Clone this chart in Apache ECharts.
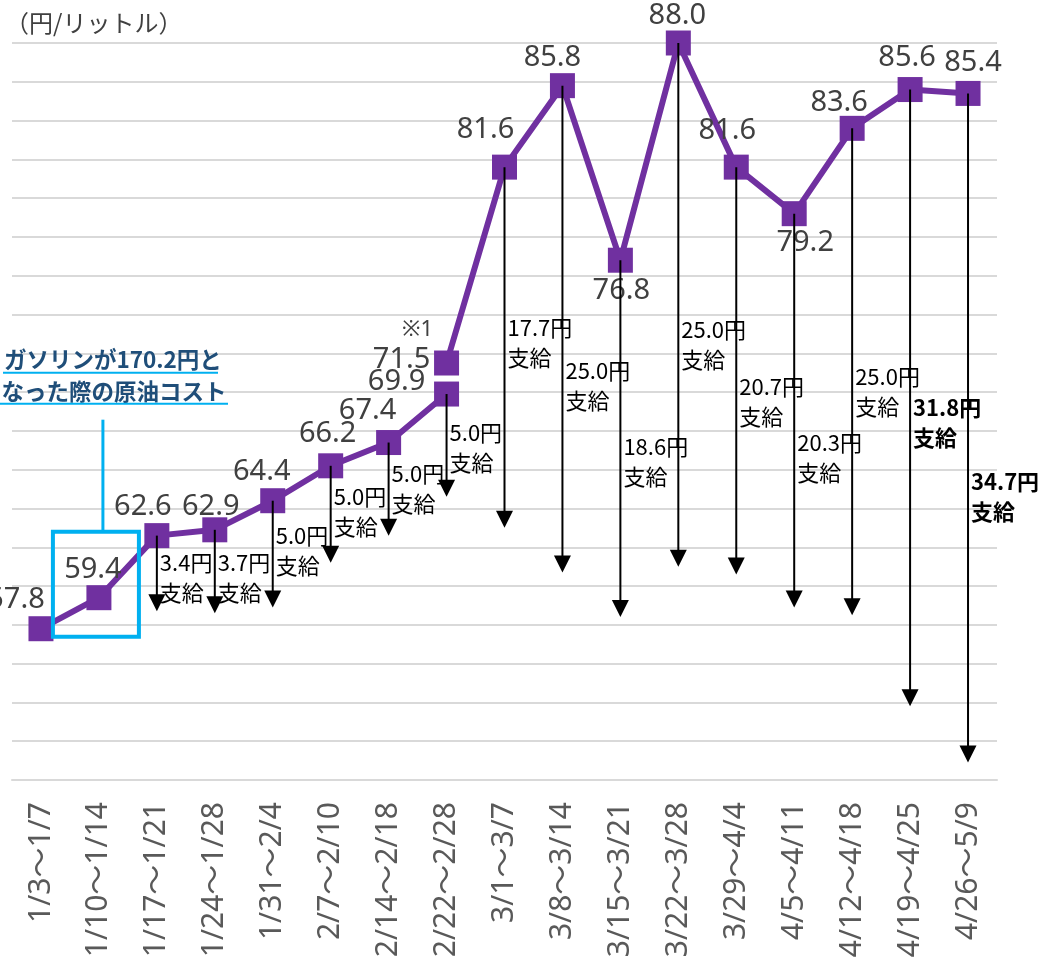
<!DOCTYPE html>
<html>
<head>
<meta charset="utf-8">
<script src="https://cdn.jsdelivr.net/npm/echarts@6/dist/echarts.min.js"></script>
<style>
  html, body { margin: 0; padding: 0; background: #fff; }
  #chart { width: 1041px; height: 961px; }
</style>
</head>
<body>
<div id="chart"></div>
<script>
// 週ごとの区間
const weeks = ['1/3～1/7', '1/10～1/14', '1/17～1/21', '1/24～1/28', '1/31～2/4', '2/7～2/10',
  '2/14～2/18', '2/22～2/28', '3/1～3/7', '3/8～3/14', '3/15～3/21', '3/22～3/28',
  '3/29～4/4', '4/5～4/11', '4/12～4/18', '4/19～4/25', '4/26～5/9']

// 原油コスト（円/リットル）
const crudeCost = [57.8, 59.4, 62.6, 62.9, 64.4, 66.2, 67.4, 69.9, 81.6, 85.8, 76.8, 88.0, 81.6, 79.2, 83.6, 85.6, 85.4]
// ※1 2/22～2/28 の見直し値
const revisedIndex = 7
const revisedCost = 71.5

// 支給額と矢印の終点
const subsidy = [null, null, '3.4', '3.7', '5.0', '5.0', '5.0', '5.0', '17.7', '25.0', '18.6', '25.0', '20.7', '20.3', '25.0', '31.8', '34.7']
const arrowEnd = [null, null, 58.7, 58.6, 58.9, 61.2, 62.6, 64.6, 63.0, 60.7, 58.4, 61.0, 60.6, 58.9, 58.5, 53.8, 50.9]

// 支給ラベルの位置（1行目の中心、軸の値）
const noteY = [null, null, 61.2, 61.2, 62.6, 64.6, 65.8, 67.9, 73.3, 71.1, 67.2, 73.2, 70.3, 67.4, 70.8, 69.2, 65.4]
const noteBold = [15, 16]

// データラベルのずれ [dx, dy]
const labelOffsets = [[-25, -29], [-6, -28], [-14, -29], [-4, -23], [-11, -29], [-3, -32], [-21, -32], [-50, -12],
  [-19, -37], [-10, -28], [1, 31], [-1, -27], [-9, -36], [11, 29], [-13, -26], [-3, -32], [5, -31]]
const revisedOffset = [-45, -3]

const purple = '#7030A0'
const labelFont = 'Noto Sans, Noto Sans CJK JP, sans-serif'
const cjkFont = 'Noto Sans CJK JP, sans-serif'

const lineA = crudeCost.map((v, i) => i <= revisedIndex
  ? { value: v, label: { offset: labelOffsets[i] } } : '-')
const lineB = crudeCost.map((v, i) => {
  if (i < revisedIndex) return '-'
  if (i === revisedIndex) return { value: revisedCost, label: { offset: revisedOffset } }
  return { value: v, label: { offset: labelOffsets[i] } }
})

const arrowData = []
subsidy.forEach((s, i) => {
  if (s !== null) arrowData.push([i, crudeCost[i], arrowEnd[i], noteY[i]])
})

const chart = echarts.init(document.getElementById('chart'))

const lineStyleCommon = {
  type: 'line',
  symbol: 'rect',
  symbolSize: 25,
  itemStyle: { color: purple },
  lineStyle: { color: purple, width: 6 },
  z: 3,
  label: {
    show: true,
    position: 'inside',
    formatter: p => Number(p.value).toFixed(1),
    color: '#404040',
    fontSize: 29,
    fontFamily: labelFont
  }
}

chart.setOption({
  animation: false,
  title: {
    text: '（円/リットル）',
    left: 0,
    top: 6,
    textStyle: { fontSize: 24, fontWeight: 'normal', color: '#404040', fontFamily: cjkFont }
  },
  grid: { left: 12, right: 44, top: 43, bottom: 181 },
  xAxis: {
    type: 'category',
    data: weeks,
    boundaryGap: true,
    axisLine: { lineStyle: { color: '#D9D9D9', width: 2 } },
    axisTick: { show: false },
    axisLabel: {
      rotate: 90,
      interval: 0,
      margin: 22,
      color: '#595959',
      fontSize: 30,
      fontFamily: labelFont
    }
  },
  yAxis: {
    type: 'value',
    min: 50,
    max: 88,
    interval: 2,
    axisLabel: { show: false },
    axisLine: { show: false },
    axisTick: { show: false },
    splitLine: { lineStyle: { color: '#D9D9D9', width: 2 } }
  },
  series: [
    Object.assign({ name: 'A', data: lineA }, lineStyleCommon),
    Object.assign({ name: 'B', data: lineB }, lineStyleCommon),
    {
      name: 'subsidy',
      type: 'custom',
      z: 5,
      data: arrowData,
      renderItem: (params, api) => {
        const i = api.value(0)
        const p0 = api.coord([i, api.value(1)])
        const p1 = api.coord([i, api.value(2)])
        const note = api.coord([i, api.value(3)])
        const h = 17, w = 8.5
        const bold = noteBold.includes(i)
        return {
          type: 'group',
          children: [
            { type: 'line', shape: { x1: p0[0], y1: p0[1], x2: p1[0], y2: p1[1] - h + 1 },
              style: { stroke: '#000', lineWidth: 2 } },
            { type: 'polygon', shape: { points: [[p1[0] - w, p1[1] - h], [p1[0] + w, p1[1] - h], [p1[0], p1[1]]] },
              style: { fill: '#000' } },
            { type: 'text', x: p0[0] + 3, y: note[1] - 15,
              style: {
                text: subsidy[i] + '円\n支給',
                fill: '#000',
                font: (bold ? 'bold ' : '') + '22px ' + cjkFont,
                lineHeight: 30,
                verticalAlign: 'top',
                align: 'left'
              } }
          ]
        }
      }
    }
  ]
})

// 注記（ガソリン170.2円時の原油コスト）
const pt = chart.convertToPixel({ xAxisIndex: 0, yAxisIndex: 0 }, [1, crudeCost[1]])
const rv = chart.convertToPixel({ xAxisIndex: 0, yAxisIndex: 0 }, [revisedIndex, revisedCost])
const boxL = pt[0] - 46, boxT = pt[1] - 66, boxW = 86, boxH = 105
const linkX = pt[0] + 4
const cyan = '#00B0F0'
chart.setOption({
  graphic: [
    { type: 'rect', shape: { x: boxL, y: boxT, width: boxW, height: boxH },
      style: { fill: 'none', stroke: cyan, lineWidth: 4 }, z: 10 },
    { type: 'line', shape: { x1: linkX, y1: boxT, x2: linkX, y2: boxT - 112 },
      style: { stroke: cyan, lineWidth: 3 }, z: 10 },
    { type: 'text', x: linkX + 10, y: boxT - 172,
      style: { text: 'ガソリンが170.2円と', fill: '#1F4E79', font: 'bold 22.5px ' + cjkFont,
        align: 'center', verticalAlign: 'middle' }, z: 10 },
    { type: 'line', shape: { x1: 3, y1: boxT - 159, x2: 218, y2: boxT - 159 },
      style: { stroke: cyan, lineWidth: 2 }, z: 10 },
    { type: 'text', x: linkX + 11, y: boxT - 140,
      style: { text: 'なった際の原油コスト', fill: '#1F4E79', font: 'bold 22.5px ' + cjkFont,
        align: 'center', verticalAlign: 'middle' }, z: 10 },
    { type: 'line', shape: { x1: 0, y1: boxT - 128, x2: 228, y2: boxT - 128 },
      style: { stroke: cyan, lineWidth: 2 }, z: 10 },
    { type: 'text', x: rv[0] - 29, y: rv[1] - 33,
      style: { text: '※1', fill: '#404040', font: '22px ' + labelFont,
        align: 'center', verticalAlign: 'middle' }, z: 10 }
  ]
})

window.addEventListener('resize', () => chart.resize())
</script>
</body>
</html>
